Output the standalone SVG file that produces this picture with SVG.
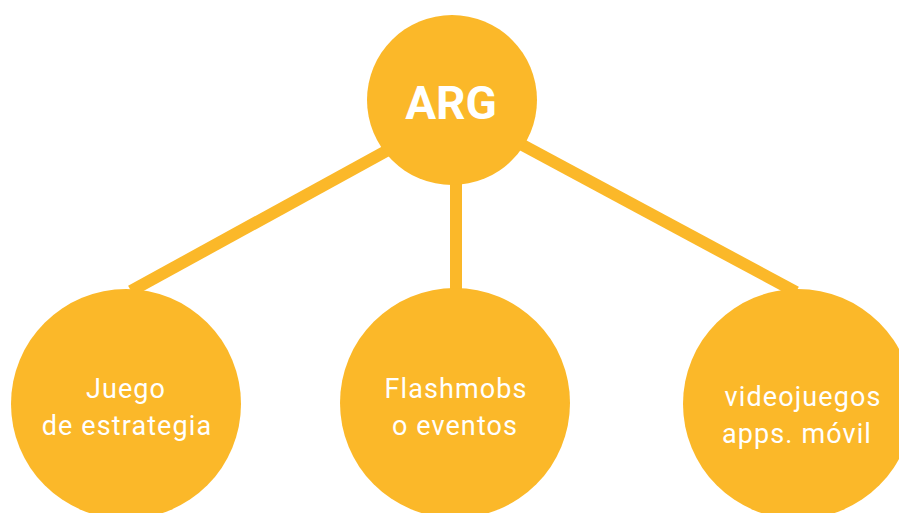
<svg xmlns="http://www.w3.org/2000/svg" width="899" height="513" viewBox="0 0 899 513">
<style>
.n{fill:#FBB829}
.c{stroke:#FBB829;stroke-width:12;fill:none}
.t{fill:#fff;font-family:Roboto,"Liberation Sans",sans-serif;font-size:27px;letter-spacing:1.1px;text-anchor:middle}
.h{fill:#fff;font-family:Roboto,"Liberation Sans",sans-serif;font-size:46px;font-weight:bold;text-anchor:middle}
</style>
<rect width="899" height="513" fill="#fff"/>
<g id="connectors">
<line class="c" x1="410" y1="138" x2="131" y2="291"/>
<line class="c" x1="456" y1="170" x2="456" y2="292"/>
<line class="c" x1="500" y1="133" x2="796" y2="292"/>
</g>
<g id="arg">
<circle class="n" cx="452" cy="100" r="85"/>
<text class="h" x="451" y="119">ARG</text>
</g>
<g id="juego">
<circle class="n" cx="126" cy="404" r="115"/>
<text class="t" x="126" y="398">Juego</text>
<text class="t" x="127" y="435">de estrategia</text>
</g>
<g id="flashmobs">
<circle class="n" cx="455" cy="403" r="115"/>
<text class="t" x="456" y="398">Flashmobs</text>
<text class="t" x="455" y="435">o eventos</text>
</g>
<g id="videojuegos">
<circle class="n" cx="798" cy="404" r="115"/>
<text class="t" x="803" y="406">videojuegos</text>
<text class="t" x="797" y="443">apps. móvil</text>
</g>
</svg>
